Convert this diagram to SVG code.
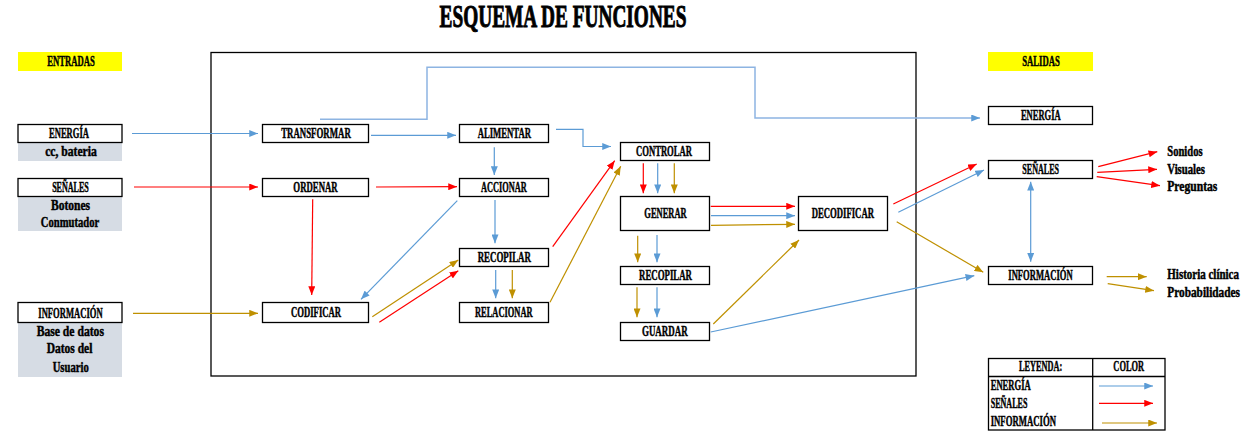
<svg xmlns="http://www.w3.org/2000/svg" width="1259" height="441" viewBox="0 0 1259 441">
<style>
text{font-family:"Liberation Serif","Times New Roman",serif;font-weight:bold;font-size:14px;fill:#000;stroke:#000;stroke-width:0.45;}
.c{text-anchor:middle;}
.t{font-size:32px;stroke-width:1;}
.box{fill:#fff;stroke:#000;stroke-width:1.3;}
.gray{fill:#d6dce4;}
.yel{fill:#ffff00;}
.b{stroke:#5b9bd5;fill:none;stroke-width:1.2;marker-end:url(#ab);}
.bl{stroke:#8db4e2;fill:none;stroke-width:1.5;marker-end:url(#ab);}
.r{stroke:#ff0000;fill:none;stroke-width:1.2;marker-end:url(#ar);}
.g{stroke:#bf9000;fill:none;stroke-width:1.2;marker-end:url(#ag);}
</style>
<defs>
<marker id="ab" viewBox="0 0 10 8" refX="10" refY="4" markerWidth="9" markerHeight="7" markerUnits="userSpaceOnUse" orient="auto-start-reverse"><path d="M0,0 L10,4 L0,8 z" fill="#5b9bd5"/></marker>
<marker id="ar" viewBox="0 0 10 8" refX="10" refY="4" markerWidth="9" markerHeight="7" markerUnits="userSpaceOnUse" orient="auto"><path d="M0,0 L10,4 L0,8 z" fill="#ff0000"/></marker>
<marker id="ag" viewBox="0 0 10 8" refX="10" refY="4" markerWidth="9" markerHeight="7" markerUnits="userSpaceOnUse" orient="auto"><path d="M0,0 L10,4 L0,8 z" fill="#bf9000"/></marker>
</defs>
<rect width="1259" height="441" fill="#fff"/>
<text class="c t" x="563" y="27" textLength="247" lengthAdjust="spacingAndGlyphs">ESQUEMA DE FUNCIONES</text>
<rect x="211" y="52.5" width="705" height="323.5" fill="none" stroke="#000" stroke-width="1.3"/>

<g id="entradas"><rect class="yel" x="18" y="52" width="104" height="19"/><text class="c" x="71" y="66" textLength="47.7" lengthAdjust="spacingAndGlyphs">ENTRADAS</text></g>
<g id="in-energia"><rect class="gray" x="18" y="142" width="104" height="19"/><rect class="box" x="18" y="124.5" width="104" height="18"/><text class="c" x="69" y="137.7" textLength="40" lengthAdjust="spacingAndGlyphs">ENERGÍA</text><text class="c" x="71" y="155.5" textLength="51.7" lengthAdjust="spacingAndGlyphs">cc, bateria</text></g>
<g id="in-senales"><rect class="gray" x="18" y="196" width="104" height="35"/><rect class="box" x="18" y="178.5" width="104" height="18"/><text class="c" x="70.5" y="191.7" textLength="36.7" lengthAdjust="spacingAndGlyphs">SEÑALES</text><text class="c" x="70.5" y="210" textLength="39" lengthAdjust="spacingAndGlyphs">Botones</text><text class="c" x="70" y="226.7" textLength="58.3" lengthAdjust="spacingAndGlyphs">Conmutador</text></g>
<g id="in-informacion"><rect class="gray" x="18" y="322" width="104" height="55"/><rect class="box" x="18" y="302.5" width="104" height="20"/><text class="c" x="70.5" y="317.7" textLength="64.3" lengthAdjust="spacingAndGlyphs">INFORMACIÓN</text><text class="c" x="70.3" y="336" textLength="67.3" lengthAdjust="spacingAndGlyphs">Base de datos</text><text class="c" x="69.5" y="353.3" textLength="45.7" lengthAdjust="spacingAndGlyphs">Datos del</text><text class="c" x="70.7" y="371.7" textLength="36" lengthAdjust="spacingAndGlyphs">Usuario</text></g>

<g id="transformar"><rect class="box" x="262.5" y="124.5" width="106" height="18"/><text class="c" x="316" y="137.7" textLength="69.7" lengthAdjust="spacingAndGlyphs">TRANSFORMAR</text></g>
<g id="alimentar"><rect class="box" x="459.5" y="124.5" width="89" height="18"/><text class="c" x="504.3" y="137.7" textLength="53.3" lengthAdjust="spacingAndGlyphs">ALIMENTAR</text></g>
<g id="ordenar"><rect class="box" x="262.5" y="178.5" width="106" height="18"/><text class="c" x="315.5" y="191.7" textLength="44.3" lengthAdjust="spacingAndGlyphs">ORDENAR</text></g>
<g id="accionar"><rect class="box" x="459.5" y="178.5" width="89" height="18"/><text class="c" x="503.8" y="191.7" textLength="45.7" lengthAdjust="spacingAndGlyphs">ACCIONAR</text></g>
<g id="recopilar1"><rect class="box" x="459.5" y="248.5" width="89" height="18"/><text class="c" x="504.3" y="262" textLength="53.3" lengthAdjust="spacingAndGlyphs">RECOPILAR</text></g>
<g id="codificar"><rect class="box" x="262.5" y="302.5" width="106" height="20"/><text class="c" x="316" y="316.7" textLength="50" lengthAdjust="spacingAndGlyphs">CODIFICAR</text></g>
<g id="relacionar"><rect class="box" x="459.5" y="302.5" width="89" height="20"/><text class="c" x="503.8" y="316.7" textLength="57.7" lengthAdjust="spacingAndGlyphs">RELACIONAR</text></g>
<g id="controlar"><rect class="box" x="620.5" y="142.5" width="89" height="18"/><text class="c" x="664" y="155.7" textLength="56" lengthAdjust="spacingAndGlyphs">CONTROLAR</text></g>
<g id="generar"><rect class="box" x="620.5" y="196.5" width="89" height="34"/><text class="c" x="665.5" y="217.7" textLength="42.3" lengthAdjust="spacingAndGlyphs">GENERAR</text></g>
<g id="recopilar2"><rect class="box" x="620.5" y="266.5" width="89" height="18"/><text class="c" x="665.5" y="279.7" textLength="53" lengthAdjust="spacingAndGlyphs">RECOPILAR</text></g>
<g id="guardar"><rect class="box" x="620.5" y="322.5" width="89" height="18"/><text class="c" x="664.8" y="335.7" textLength="45.7" lengthAdjust="spacingAndGlyphs">GUARDAR</text></g>
<g id="decodificar"><rect class="box" x="798.5" y="196.5" width="89" height="34"/><text class="c" x="842.8" y="217.7" textLength="62.3" lengthAdjust="spacingAndGlyphs">DECODIFICAR</text></g>

<g id="salidas"><rect class="yel" x="988" y="52" width="105" height="19"/><text class="c" x="1041" y="66" textLength="37.7" lengthAdjust="spacingAndGlyphs">SALIDAS</text></g>
<g id="out-energia"><rect class="box" x="988.5" y="106.5" width="104" height="18"/><text class="c" x="1040.8" y="119.7" textLength="39.7" lengthAdjust="spacingAndGlyphs">ENERGÍA</text></g>
<g id="out-senales"><rect class="box" x="988.5" y="160.5" width="104" height="18"/><text class="c" x="1040.7" y="173.7" textLength="36.7" lengthAdjust="spacingAndGlyphs">SEÑALES</text></g>
<g id="out-informacion"><rect class="box" x="988.5" y="266.5" width="104" height="18"/><text class="c" x="1040.5" y="279.7" textLength="64.3" lengthAdjust="spacingAndGlyphs">INFORMACIÓN</text></g>
<g id="out-senales-items"><text x="1167.3" y="156" textLength="35.3" lengthAdjust="spacingAndGlyphs">Sonidos</text><text x="1167.3" y="173.6" textLength="37.7" lengthAdjust="spacingAndGlyphs">Visuales</text><text x="1167.3" y="191" textLength="50" lengthAdjust="spacingAndGlyphs">Preguntas</text></g>
<g id="out-info-items"><text x="1167.3" y="279.3" textLength="71.7" lengthAdjust="spacingAndGlyphs">Historia clínica</text><text x="1167.3" y="296.6" textLength="72.7" lengthAdjust="spacingAndGlyphs">Probabilidades</text></g>

<g id="leyenda">
<rect x="988.5" y="358.5" width="176.5" height="71.5" fill="#fff" stroke="#000" stroke-width="1.3"/>
<line x1="988.5" y1="376.5" x2="1165" y2="376.5" stroke="#000" stroke-width="1.3"/>
<line x1="1092.7" y1="358.5" x2="1092.7" y2="430" stroke="#000" stroke-width="1.3"/>
<text class="c" x="1040.7" y="370.7" textLength="43.3" lengthAdjust="spacingAndGlyphs">LEYENDA:</text>
<text class="c" x="1128.7" y="370.7" textLength="30.7" lengthAdjust="spacingAndGlyphs">COLOR</text>
<text x="990.7" y="390" textLength="40" lengthAdjust="spacingAndGlyphs">ENERGÍA</text>
<text x="990.7" y="407.7" textLength="36.7" lengthAdjust="spacingAndGlyphs">SEÑALES</text>
<text x="990.7" y="426" textLength="65.3" lengthAdjust="spacingAndGlyphs">INFORMACIÓN</text>
<path class="b" d="M1099,386 H1153"/>
<path class="r" d="M1099,403.3 H1153"/>
<path class="g" d="M1102,423 H1157"/>
</g>

<g id="connectors">
<path class="b" d="M132,133.5 H258"/>
<path class="r" d="M134,187 H258"/>
<path class="g" d="M133,313.3 H258"/>
<path class="b" d="M371,135.3 H456"/>
<path class="bl" d="M320,119.3 H427 V67.3 H755 V118 H980"/>
<path class="b" d="M556,129.3 H583 V146.5 H611"/>
<path class="r" d="M376,187 L457,186.7"/>
<path class="r" d="M312.7,199.3 L311.7,295"/>
<path class="b" d="M494.3,147.3 V175"/>
<path class="b" d="M495,200 V243.3"/>
<path class="b" d="M457.3,200.7 L361,299.3"/>
<path class="g" d="M372.3,316.7 L458.3,260"/>
<path class="r" d="M379.3,322.3 L458.3,270.7"/>
<path class="b" d="M495.7,270 V298.3"/>
<path class="g" d="M512.3,270 V298.3"/>
<path class="r" d="M552.7,246.7 L614.7,160.7"/>
<path class="g" d="M550,302.3 L620.7,166.3"/>
<path class="r" d="M643.3,163.3 V193.3"/>
<path class="b" d="M657.7,163.3 V193.3"/>
<path class="g" d="M674.3,163.3 V193.3"/>
<path class="r" d="M710.7,206.3 H795"/>
<path class="b" d="M711,215.7 H795"/>
<path class="g" d="M711,225.3 L795,224.3"/>
<path class="g" d="M637.7,235.7 V262.3"/>
<path class="b" d="M657,235 V262.3"/>
<path class="g" d="M637,287.3 V317.3"/>
<path class="b" d="M657,287.3 V317.3"/>
<path class="g" d="M713.3,324 L799,240"/>
<path class="b" d="M710.7,332 L974.3,275.7"/>
<path class="r" d="M893.3,204 L976.7,164"/>
<path class="b" d="M898.3,212.3 L984,170"/>
<path class="g" d="M896.7,221.7 L983.3,272.3"/>
<path class="b" d="M1030.7,181.7 V261.7" style="marker-start:url(#ab)"/>
<path class="r" d="M1098.3,166.7 L1157.3,151.7"/>
<path class="r" d="M1097.3,172.3 L1157,169.3"/>
<path class="r" d="M1096.7,176.7 L1160,185.7"/>
<path class="g" d="M1106.7,276.7 H1146.7"/>
<path class="g" d="M1107.7,283.7 L1154,290.7"/>
</g>
</svg>
